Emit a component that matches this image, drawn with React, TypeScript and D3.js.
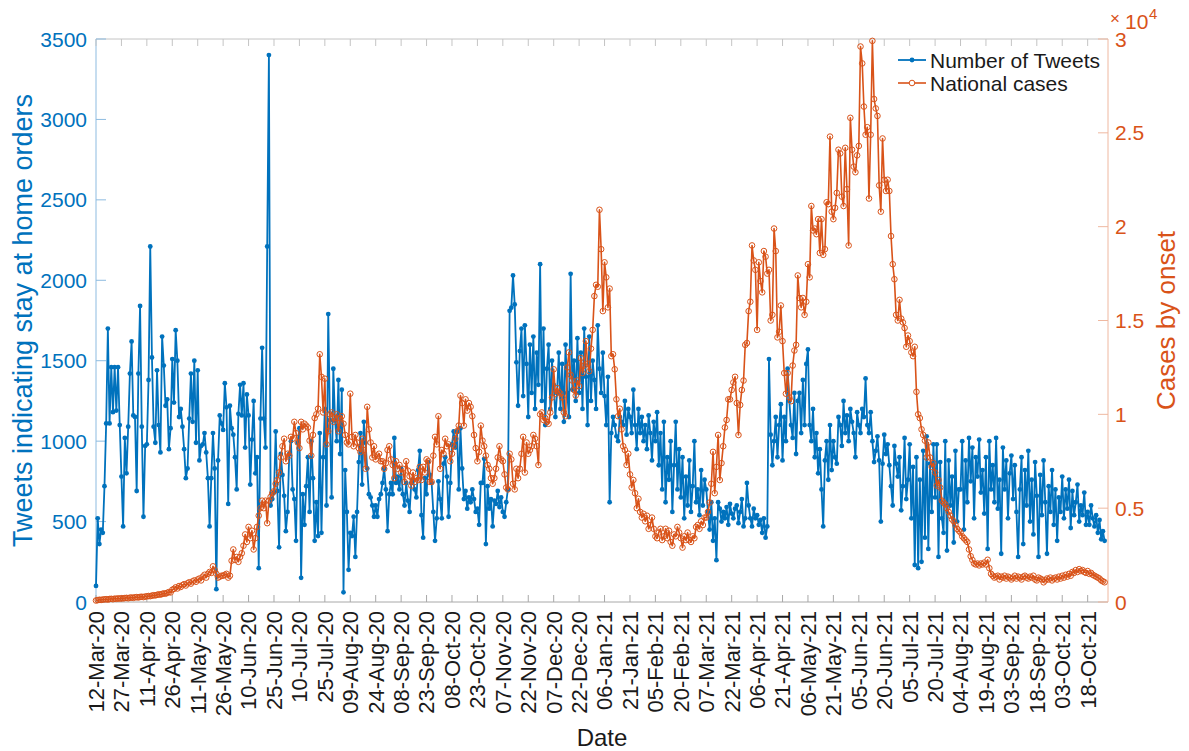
import React from "react";
import * as d3 from "d3";

// ---------- data ----------
const startDay = "2020-03-12";

const xTickLabels = [
  "12-Mar-20", "27-Mar-20", "11-Apr-20", "26-Apr-20", "11-May-20", "26-May-20", "10-Jun-20", "25-Jun-20",
  "10-Jul-20", "25-Jul-20", "09-Aug-20", "24-Aug-20", "08-Sep-20", "23-Sep-20", "08-Oct-20", "23-Oct-20",
  "07-Nov-20", "22-Nov-20", "07-Dec-20", "22-Dec-20", "06-Jan-21", "21-Jan-21", "05-Feb-21", "20-Feb-21",
  "07-Mar-21", "22-Mar-21", "06-Apr-21", "21-Apr-21", "06-May-21", "21-May-21", "05-Jun-21", "20-Jun-21",
  "05-Jul-21", "20-Jul-21", "04-Aug-21", "19-Aug-21", "03-Sep-21", "18-Sep-21", "03-Oct-21", "18-Oct-21",
];
const leftTicks = [0, 500, 1000, 1500, 2000, 2500, 3000, 3500];
const rightTicks = [0, 0.5, 1, 1.5, 2, 2.5, 3];

// daily number of tweets (from 12-Mar-20)
const tweets = [
  100, 520, 360, 450, 430, 720, 1110, 1700, 1110, 1460, 1180, 1460, 1190, 1460, 1100,
  780, 470, 1020, 800, 1090, 1420, 1620, 1160, 1150, 690, 1420, 1840, 1090, 530, 970,
  980, 1380, 2210, 1520, 1090, 990, 1440, 1100, 930, 1650, 1470, 1220, 1260, 950, 1080,
  1510, 1240, 1690, 1500, 1150, 1200, 1090, 950, 770, 830, 1140, 1420, 1120, 1500, 990,
  1440, 880, 970, 980, 1050, 930, 770, 470, 770, 1050, 830, 80, 880, 1160, 1110,
  1070, 1360, 1210, 610, 1220, 1080, 1040, 900, 700, 1170, 1350, 1160, 1360, 960, 1290,
  1160, 730, 1010, 1250, 800, 900, 210, 1140, 1580, 1140, 960, 2210, 3400, 600, 640,
  680, 1060, 690, 340, 920, 790, 660, 440, 560, 920, 1000, 700, 640, 380, 990,
  1080, 150, 670, 480, 720, 900, 560, 1000, 770, 380, 620, 410, 1050, 430, 900,
  1200, 600, 1790, 1130, 650, 1450, 1130, 1000, 1380, 920, 1320, 60, 820, 560, 200,
  430, 410, 530, 280, 560, 870, 1050, 730, 1120, 990, 830, 670, 650, 600, 530,
  600, 530, 640, 670, 740, 830, 700, 440, 670, 740, 670, 1020, 740, 780, 700,
  830, 670, 600, 740, 630, 560, 740, 760, 700, 650, 820, 940, 540, 400, 770,
  670, 870, 790, 740, 560, 380, 520, 750, 640, 520, 860, 900, 780, 530, 740,
  980, 1060, 960, 1060, 700, 1080, 830, 640, 690, 580, 650, 620, 700, 640, 560,
  580, 480, 740, 740, 890, 360, 720, 580, 640, 470, 630, 610, 690, 590, 650,
  560, 530, 620, 700, 1810, 1830, 2030, 1850, 1490, 1220, 1560, 1700, 1280, 1720, 1480,
  1150, 1600, 1300, 1650, 1200, 1550, 1350, 2100, 1250, 1700, 1100, 1450, 1600, 1200, 1500,
  1350, 1150, 1300, 1550, 1200, 1480, 1120, 1600, 1300, 1150, 2040, 1320, 1500, 1250, 1640,
  1300, 1550, 1200, 1700, 1400, 1100, 1650, 1250, 1500, 1380, 1200, 1720, 1450, 1300, 1550,
  1280, 1100, 1400, 620, 1050, 1150, 1100, 1030, 1000, 1150, 1120, 1100, 1250, 1040, 1200,
  1150, 1050, 1320, 1100, 950, 1200, 1050, 1150, 1000, 1100, 950, 1160, 1050, 880, 1120,
  1000, 1180, 850, 1050, 700, 1120, 620, 900, 760, 1000, 560, 850, 1120, 700, 950,
  650, 900, 520, 780, 600, 880, 560, 720, 1000, 620, 700, 540, 820, 600, 760,
  700, 560, 450, 620, 380, 520, 260, 620, 580, 500, 560, 520, 590, 480, 610,
  550, 520, 580, 600, 490, 560, 640, 470, 520, 740, 600, 520, 470, 580, 520,
  540, 480, 510, 430, 520, 400, 470, 1510, 1040, 850, 1000, 1150, 900, 1100, 1230,
  880, 1150, 1000, 1450, 1250, 1100, 1020, 1300, 920, 1250, 1300, 1050, 1380, 1100, 1480,
  1570, 1100, 1000, 1200, 900, 1050, 800, 950, 700, 470, 880, 1000, 760, 1100, 820,
  1000, 900, 860, 1150, 1100, 970, 1250, 1050, 1160, 1000, 1200, 1120, 1050, 900, 1180,
  1100, 1050, 1200, 1150, 1390, 1100, 1050, 1180, 1000, 870, 940, 1030, 880, 500, 860,
  1040, 920, 980, 850, 720, 600, 970, 860, 780, 900, 570, 720, 1020, 640, 760,
  980, 520, 840, 230, 900, 210, 760, 250, 940, 400, 1030, 330, 860, 560, 980,
  650, 980, 280, 870, 520, 430, 1000, 320, 880, 600, 780, 370, 940, 500, 700,
  700, 1000, 450, 880, 620, 1020, 750, 960, 520, 900, 780, 1010, 680, 820, 550,
  900, 330, 1000, 700, 850, 620, 1020, 580, 760, 300, 960, 700, 880, 520, 800,
  910, 640, 850, 560, 280, 700, 900, 360, 820, 600, 940, 500, 760, 420, 870,
  660, 280, 790, 540, 880, 620, 300, 720, 560, 820, 480, 700, 380, 650, 560,
  780, 520, 700, 580, 760, 460, 690, 540, 620, 730, 500, 600, 540, 680, 480,
  560, 480, 600, 520, 470, 540, 430, 510, 390, 440, 380,
];

// daily national cases by onset (from 12-Mar-20)
const cases = [
  80, 100, 120, 110, 130, 140, 150, 130, 160, 170, 150, 180, 170, 190, 180,
  200, 190, 210, 220, 200, 230, 240, 220, 250, 260, 240, 270, 280, 260, 290,
  300, 320, 310, 340, 360, 350, 380, 410, 390, 430, 460, 440, 490, 530, 510,
  650, 700, 780, 720, 850, 800, 900, 950, 880, 1000, 1050, 980, 1100, 1150, 1080,
  1200, 1250, 1150, 1350, 1450, 1300, 1500, 1600, 1550, 1900, 1700, 1500, 1300, 1350, 1400,
  1400, 1450, 1500, 1300, 1400, 2200, 2800, 2240, 2400, 2140, 2400, 2600, 3000, 3600, 3200,
  4000, 3400, 3800, 2800, 3400, 4000, 4600, 5000, 5400, 5000, 5400, 4200, 5400, 5600, 5800,
  5900, 6300, 6500, 6900, 7700, 8300, 8700, 7500, 7900, 7800, 8800, 8700, 9600, 9000, 8500,
  8200, 9600, 9200, 9500, 9400, 9300, 8600, 7800, 8900, 9800, 10000, 10300, 13200, 12000, 10100,
  11900, 8400, 9100, 10000, 10100, 9600, 9800, 10000, 9100, 9800, 9900, 9500, 8900, 8500, 8400,
  11100, 8800, 8300, 8900, 8500, 8200, 8000, 8700, 8100, 7100, 10400, 9200, 8500, 7700, 8300,
  7600, 7800, 7900, 7500, 7500, 7100, 7400, 8100, 8300, 7600, 7300, 6600, 7500, 7100, 7300,
  6900, 7100, 6400, 7500, 7000, 6700, 6200, 6900, 6400, 6600, 6500, 7200, 6500, 7200, 6900,
  7600, 7500, 6400, 6400, 7800, 8800, 8400, 9900, 7100, 8100, 7900, 8700, 8300, 8400, 7500,
  7900, 8300, 8700, 9100, 9400, 11000, 10600, 9400, 10800, 10200, 10600, 10400, 9900, 8900, 8200,
  7500, 8000, 9400, 8600, 8300, 7800, 7300, 7100, 6600, 6300, 6600, 7100, 7700, 8300, 7600,
  7500, 6800, 6100, 6000, 7900, 7600, 6300, 6000, 7100, 6600, 7100, 7900, 8800, 6900, 8500,
  7900, 8100, 8300, 8900, 8700, 8300, 7300, 10000, 10100, 9700, 9800, 9600, 9500, 10100, 10900,
  12400, 11100, 11400, 11200, 11100, 10900, 10100, 9900, 12500, 13300, 12100, 11800, 11300, 11000, 11800,
  11500, 13000, 12200, 12600, 13900, 12700, 12300, 13500, 14500, 16300, 16900, 16800, 20900, 18800, 15500,
  18100, 17300, 15700, 16700, 13100, 13200, 12400, 10800, 9900, 10300, 9200, 8300, 8100, 7300, 7900,
  6800, 6100, 6500, 5800, 5000, 5500, 4800, 4500, 4700, 4300, 4600, 3900, 4100, 4500, 3900,
  3500, 3400, 3700, 3900, 3300, 3500, 3900, 3400, 3800, 3200, 3000, 3600, 3500, 4000, 3700,
  3400, 2900, 3500, 3300, 3700, 3300, 3200, 3500, 3400, 4000, 4100, 3900, 4300, 4100, 4500,
  4500, 4800, 5300, 6300, 8000, 5800, 7200, 8900, 6500, 7400, 8300, 9300, 9700, 10800, 10800,
  11300, 11700, 12000, 10600, 8900, 10500, 11300, 11800, 13700, 13800, 15500, 16000, 19000, 18200, 17700,
  14500, 18100, 17100, 16500, 18700, 18400, 17500, 17700, 15000, 15300, 19900, 18700, 14100, 14400, 15800,
  13900, 12200, 11100, 12200, 10900, 10700, 12600, 13400, 13700, 17400, 16200, 15700, 16200, 15300, 16000,
  18000, 17300, 21100, 19800, 19900, 19600, 20400, 18600, 20400, 18500, 18800, 21300, 21200, 24800, 20800,
  20400, 21000, 21800, 24100, 23900, 21600, 21100, 24200, 22000, 19000, 25800, 24100, 23200, 22900, 23800,
  24300, 29600, 28700, 26400, 24900, 25300, 21500, 24900, 29900, 26800, 26300, 25900, 22200, 20800, 24700,
  22500, 21900, 22500, 21900, 19500, 18000, 17200, 15300, 15000, 16100, 15100, 14900, 14600, 13600, 14200,
  13900, 13300, 13100, 13600, 11200, 10000, 9800, 9200, 8900, 8600, 7700, 8500, 7700, 7200, 7400,
  6900, 6200, 6500, 6100, 5400, 5300, 5200, 5000, 4800, 4600, 4400, 4300, 4100, 3900, 3800,
  3700, 3500, 3400, 3300, 3200, 2800, 2440, 2240, 2050, 2000, 2050, 1950, 2050, 2000, 2100,
  2000, 2250, 1800, 1500, 1400, 1300, 1350, 1400, 1200, 1350, 1300, 1400, 1250, 1350, 1300,
  1200, 1300, 1400, 1250, 1350, 1300, 1200, 1350, 1400, 1300, 1250, 1350, 1300, 1400, 1200,
  1150, 1300, 1250, 1200, 1050, 1150, 1250, 1200, 1300, 1150, 1250, 1300, 1200, 1350, 1250,
  1400, 1300, 1450, 1350, 1500, 1400, 1600, 1550, 1700, 1600, 1750, 1650, 1700, 1600, 1550,
  1650, 1500, 1550, 1450, 1400, 1350, 1300, 1250, 1150, 1100, 1050,
];

const BLUE = "#0072BD";
const ORANGE = "#D95319";
const FONT = "'Liberation Sans', Arial, Helvetica, sans-serif";

export default function App() {
  const W = 1189;
  const H = 751;
  const L = 96, R = 1108, T = 39, B = 602;

  const start = d3.utcParse("%Y-%m-%d")(startDay) as Date;
  const dates = tweets.map((_, i) => d3.utcDay.offset(start, i));
  const end = d3.utcDay.offset(start, 597);

  const x = d3.scaleUtc().domain([start, end]).range([L, R]);
  const yL = d3.scaleLinear().domain([0, 3500]).range([B, T]);
  const yR = d3.scaleLinear().domain([0, 3]).range([B, T]);

  const tickDates = xTickLabels.map((_, i) => d3.utcDay.offset(start, i * 15));

  const tweetLine = d3.line<number>().x((_, i) => x(dates[i])).y((d) => yL(d))(tweets) || "";
  const caseLine = d3.line<number>().x((_, i) => x(dates[i])).y((d) => yR(d / 10000))(cases) || "";

  return (
    <svg width={W} height={H} style={{ position: "absolute", left: 0, top: 0, background: "#fff" }}
      fontFamily={FONT}>
      <rect x={0} y={0} width={W} height={H} fill="#fff" />
      {/* box */}
      <line x1={L} x2={R} y1={T} y2={T} stroke="#c4c4c4" strokeWidth={1} />
      <line x1={L} x2={R} y1={B} y2={B} stroke="#a8a8a8" strokeWidth={1} />
      <line x1={L} x2={L} y1={T} y2={B} stroke="#8dbbe0" strokeWidth={1} />
      <line x1={R} x2={R} y1={T} y2={B} stroke="#efb8a0" strokeWidth={1} />

      {/* x ticks */}
      {tickDates.map((d, i) => (
        <g key={"xt" + i}>
          <line x1={x(d)} x2={x(d)} y1={B} y2={B - 7} stroke="#a8a8a8" strokeWidth={1} />
          <line x1={x(d)} x2={x(d)} y1={T} y2={T + 7} stroke="#c4c4c4" strokeWidth={1} />
          <text transform={`translate(${x(d)},${B + 9}) rotate(-90)`} textAnchor="end" dy="0.36em"
            fontSize={22} fill="#1a1a1a">{xTickLabels[i]}</text>
        </g>
      ))}

      {/* left ticks */}
      {leftTicks.map((v) => (
        <g key={"yl" + v}>
          <line x1={L} x2={L + 10} y1={yL(v)} y2={yL(v)} stroke="#8dbbe0" strokeWidth={1} />
          <text x={L - 9} y={yL(v)} dy="0.36em" textAnchor="end" fontSize={21} fill={BLUE}>{v}</text>
        </g>
      ))}
      {/* right ticks */}
      {rightTicks.map((v) => (
        <g key={"yr" + v}>
          <line x1={R} x2={R - 10} y1={yR(v)} y2={yR(v)} stroke="#efb8a0" strokeWidth={1} />
          <text x={R + 7} y={yR(v)} dy="0.36em" textAnchor="start" fontSize={21} fill={ORANGE}>{v}</text>
        </g>
      ))}
      {/* exponent */}
      <text x={1110} y={24} fontSize={17} fill={ORANGE}>×</text>
      <text x={1125} y={29} fontSize={21} fill={ORANGE}>10</text>
      <text x={1149} y={19} fontSize={15} fill={ORANGE}>4</text>

      {/* series: tweets */}
      <path d={tweetLine} fill="none" stroke={BLUE} strokeWidth={1.8} strokeLinejoin="round" />
      {tweets.map((v, i) => (
        <circle key={"tp" + i} cx={x(dates[i])} cy={yL(v)} r={2.4} fill={BLUE} />
      ))}
      {/* series: cases */}
      <path d={caseLine} fill="none" stroke={ORANGE} strokeWidth={1.6} strokeLinejoin="round" />
      {cases.map((v, i) => (
        <circle key={"cp" + i} cx={x(dates[i])} cy={yR(v / 10000)} r={2.8} fill="none" stroke={ORANGE} strokeWidth={1} />
      ))}

      {/* axis labels */}
      <text transform={`translate(22,${(T + B) / 2}) rotate(-90)`} textAnchor="middle" dy="0.36em"
        fontSize={27} fill={BLUE}>Tweets indicating stay at home orders</text>
      <text transform={`translate(1166,${(T + B) / 2}) rotate(-90)`} textAnchor="middle" dy="0.36em"
        fontSize={26} fill={ORANGE}>Cases by onset</text>
      <text x={(L + R) / 2} y={746} textAnchor="middle" fontSize={24} fill="#1a1a1a">Date</text>

      {/* legend */}
      <g>
        <line x1={898} x2={926} y1={60} y2={60} stroke={BLUE} strokeWidth={1.8} />
        <circle cx={912} cy={60} r={2.4} fill={BLUE} />
        <text x={930} y={60} dy="0.36em" fontSize={21} fill="#1a1a1a">Number of Tweets</text>
        <line x1={898} x2={926} y1={83} y2={83} stroke={ORANGE} strokeWidth={1.6} />
        <circle cx={912} cy={83} r={2.8} fill="#fff" stroke={ORANGE} strokeWidth={1} />
        <text x={930} y={83} dy="0.36em" fontSize={21} fill="#1a1a1a">National cases</text>
      </g>
    </svg>
  );
}
